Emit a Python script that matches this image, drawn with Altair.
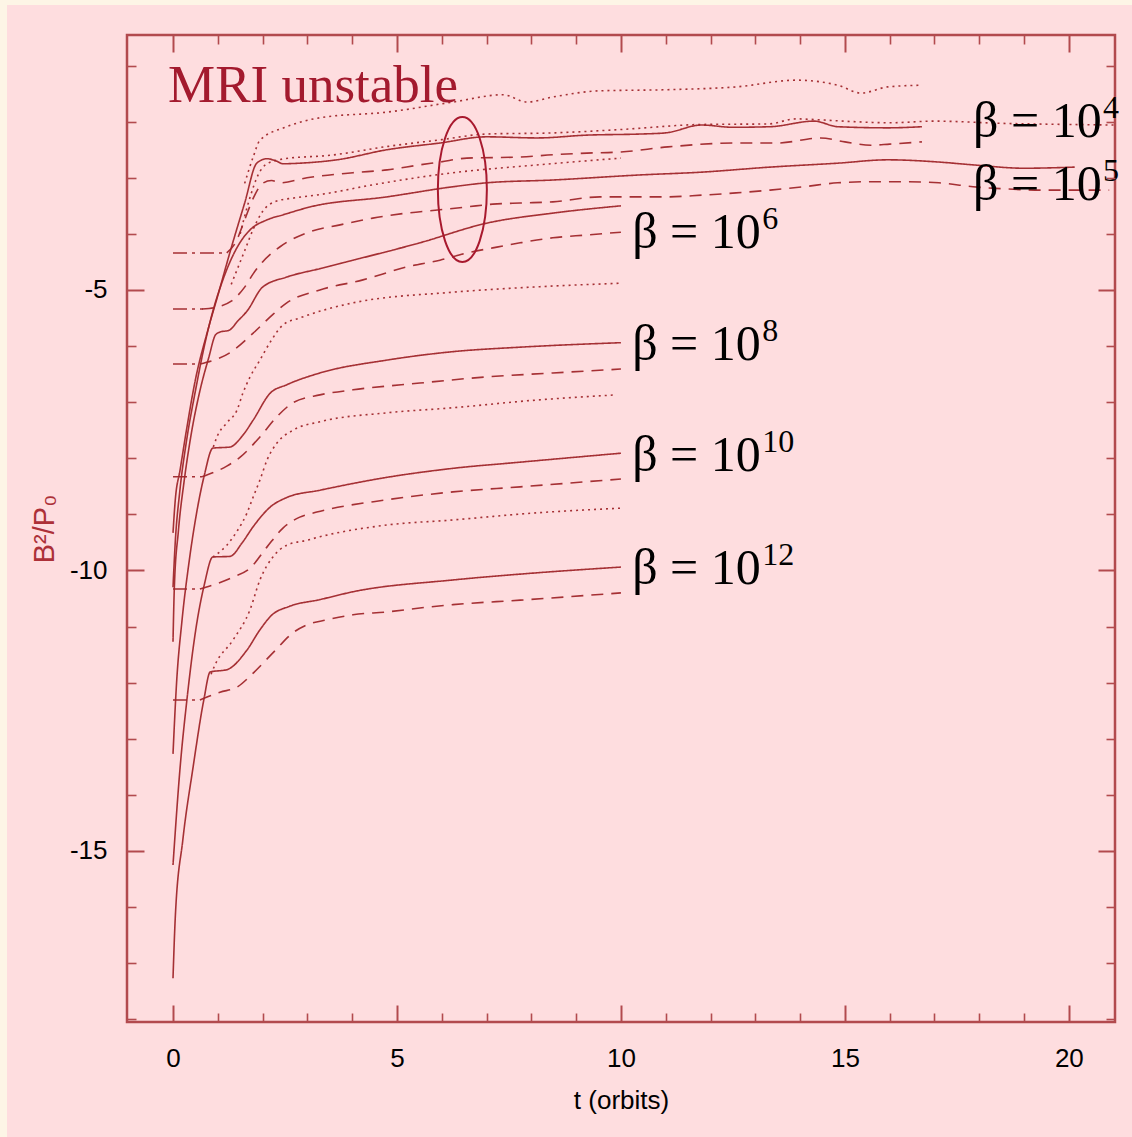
import altair as alt
import pandas as pd

# ---------------- data (t in orbits, v = log B^2/P0) ----------------
b4_solid_t = [0, 0.05, 0.16, 0.3, 0.5, 0.78, 1.0, 1.3, 1.6, 1.87, 2.1, 2.3, 2.46, 2.83, 3.66, 4.78, 5.96, 7.0, 8.13, 9.24, 10.45, 11.0, 11.8, 12.5, 13.33, 14.31, 14.84, 15.96, 16.72]
b4_solid_v = [-9.33, -8.75, -8.2, -7.5, -6.6, -5.71, -5.1, -4.25, -3.45, -2.74, -2.66, -2.7, -2.75, -2.74, -2.68, -2.5, -2.38, -2.27, -2.29, -2.24, -2.22, -2.2, -2.06, -2.1, -2.09, -1.99, -2.09, -2.11, -2.09]
b4_dash_t = [1.2, 1.4, 1.6, 1.8, 2.0, 2.2, 2.39, 2.99, 4.02, 4.78, 5.51, 5.96, 6.56, 7.75, 8.48, 9.24, 10.0, 11.05, 12.57, 13.5, 14.46, 15.0, 15.58, 16.0, 16.72]
b4_dash_v = [-4.34, -4.15, -3.75, -3.35, -3.1, -3.05, -3.09, -3.0, -2.91, -2.86, -2.77, -2.72, -2.65, -2.63, -2.59, -2.56, -2.54, -2.45, -2.38, -2.38, -2.29, -2.36, -2.42, -2.4, -2.36]
b4_dot_t = [1.5, 1.7, 1.9, 2.1, 2.5, 3.5, 4.8, 6.0, 7.0, 8.5, 10.0, 11.8, 13.3, 13.9, 14.5, 15.2, 16.0, 17.0, 18.5, 20.0, 21.0]
b4_dot_v = [-4.0, -3.4, -2.95, -2.75, -2.66, -2.6, -2.44, -2.32, -2.22, -2.2, -2.14, -2.05, -2.04, -1.95, -1.97, -2.0, -2.02, -1.99, -2.03, -2.05, -2.06]
top_dot_t = [1.6, 1.79, 1.94, 2.54, 3.28, 4.78, 6.25, 7.37, 7.9, 8.48, 9.53, 11.05, 12.57, 13.93, 14.84, 15.36, 15.96, 16.72]
top_dot_v = [-3.1, -2.63, -2.33, -2.09, -1.93, -1.83, -1.65, -1.52, -1.65, -1.56, -1.45, -1.43, -1.38, -1.26, -1.35, -1.49, -1.38, -1.35]

b5_solid_t = [0, 0.05, 0.15, 0.3, 0.5, 0.7, 0.9, 1.1, 1.3, 1.5, 1.72, 2.1, 2.46, 3.06, 4.78, 6.25, 7.0, 8.48, 10.42, 11.8, 13.33, 14.84, 15.96, 17.1, 17.86, 19.0, 20.13]
b5_solid_v = [-10.3, -9.5, -8.6, -7.7, -6.8, -6.0, -5.35, -4.85, -4.45, -4.15, -3.93, -3.75, -3.66, -3.52, -3.34, -3.16, -3.09, -3.04, -2.95, -2.9, -2.81, -2.74, -2.68, -2.72, -2.77, -2.83, -2.81]
b5_dash_t = [0.65, 1.0, 1.3, 1.6, 1.8, 2.0, 2.39, 2.99, 3.73, 4.46, 5.22, 5.96, 6.56, 7.14, 7.75, 8.48, 9.53, 11.05, 11.8, 12.57, 13.33, 14.08, 14.84, 15.58, 16.34, 17.1, 17.86, 18.62, 19.37, 20.9]
b5_dash_v = [-5.34, -5.3, -5.2, -4.95, -4.7, -4.5, -4.23, -3.98, -3.84, -3.72, -3.63, -3.57, -3.52, -3.47, -3.45, -3.43, -3.34, -3.34, -3.31, -3.27, -3.22, -3.16, -3.09, -3.07, -3.07, -3.09, -3.16, -3.2, -3.22, -3.22]
b5_dot_t = [1.3, 1.6, 1.8, 2.0, 2.3, 2.7, 3.28, 4.5, 6.25, 8.0, 10.0]
b5_dot_v = [-4.9, -4.3, -3.9, -3.6, -3.42, -3.36, -3.3, -3.12, -2.91, -2.78, -2.65]

b6_solid_t = [0, 0.03, 0.12, 0.25, 0.4, 0.6, 0.8, 0.95, 1.05, 1.25, 1.45, 1.65, 2.0, 2.54, 3.28, 4.02, 5.51, 7.0, 8.48, 10.0]
b6_solid_v = [-11.27, -10.3, -9.3, -8.4, -7.6, -6.8, -6.2, -5.8, -5.75, -5.72, -5.55, -5.38, -4.95, -4.77, -4.62, -4.47, -4.16, -3.81, -3.63, -3.5]
b6_dash_t = [0.6, 1.27, 1.79, 2.17, 2.54, 3.28, 4.24, 5.22, 5.96, 6.56, 7.14, 7.75, 8.48, 9.24, 10.0]
b6_dash_v = [-6.32, -6.12, -5.77, -5.48, -5.23, -5.0, -4.82, -4.59, -4.47, -4.34, -4.25, -4.16, -4.07, -4.02, -3.97]
b6_dot_t = [0.9, 0.98, 1.2, 1.43, 1.56, 1.72, 1.94, 2.17, 2.46, 2.83, 4.02, 6.25, 8.0, 10.0]
b6_dot_v = [-7.8, -7.62, -7.37, -7.14, -6.84, -6.55, -6.25, -5.93, -5.62, -5.5, -5.23, -5.04, -4.95, -4.88]

b8_solid_t = [0, 0.08, 0.2, 0.35, 0.5, 0.7, 0.89, 1.27, 1.55, 1.79, 2.17, 2.54, 3.28, 4.78, 6.25, 7.75, 10.0]
b8_solid_v = [-13.27, -12.0, -10.9, -9.9, -9.1, -8.3, -7.82, -7.8, -7.6, -7.32, -6.84, -6.69, -6.48, -6.25, -6.1, -6.02, -5.94]
b8_dash_t = [0.65, 1.2, 1.5, 1.94, 2.32, 2.68, 3.28, 4.02, 5.51, 7.0, 8.48, 10.0]
b8_dash_v = [-8.33, -8.14, -7.98, -7.62, -7.26, -7.01, -6.87, -6.78, -6.66, -6.55, -6.48, -6.41]
b8_dot_t = [0.89, 1.2, 1.43, 1.65, 1.79, 1.94, 2.1, 2.32, 2.68, 3.28, 4.78, 6.25, 8.0, 9.9]
b8_dot_v = [-9.76, -9.55, -9.3, -8.98, -8.69, -8.39, -8.03, -7.73, -7.5, -7.35, -7.19, -7.1, -6.97, -6.87]

b10_solid_t = [0, 0.16, 0.31, 0.5, 0.7, 0.89, 1.27, 1.55, 1.79, 2.17, 2.54, 3.28, 4.78, 6.25, 7.75, 10.0]
b10_solid_v = [-15.25, -13.5, -12.31, -11.1, -10.25, -9.76, -9.75, -9.5, -9.22, -8.87, -8.7, -8.57, -8.34, -8.18, -8.07, -7.91]
b10_dash_t = [0.6, 0.89, 1.34, 1.72, 2.1, 2.46, 2.83, 3.21, 4.78, 6.25, 7.75, 10.0]
b10_dash_v = [-10.33, -10.26, -10.12, -9.96, -9.58, -9.24, -9.05, -8.96, -8.74, -8.6, -8.51, -8.37]
b10_dot_t = [0.85, 0.94, 1.34, 1.72, 1.94, 2.23, 2.54, 3.0, 3.28, 4.78, 6.25, 8.0, 10.0]
b10_dot_v = [-11.85, -11.68, -11.24, -10.7, -10.17, -9.76, -9.55, -9.46, -9.4, -9.19, -9.1, -8.98, -8.89]

b12_solid_t = [0, 0.05, 0.22, 0.45, 0.69, 0.83, 1.2, 1.65, 1.94, 2.2, 2.6, 3.28, 4.02, 6.25, 8.0, 10.0]
b12_solid_v = [-17.27, -16.2, -14.8, -13.5, -12.3, -11.81, -11.77, -11.42, -11.06, -10.8, -10.64, -10.52, -10.38, -10.17, -10.05, -9.94]
b12_dash_t = [0.6, 1.05, 1.43, 1.79, 2.23, 2.68, 2.99, 3.44, 4.02, 4.78, 5.51, 6.25, 7.75, 10.0]
b12_dash_v = [-12.31, -12.17, -12.08, -11.83, -11.47, -11.11, -10.97, -10.88, -10.79, -10.74, -10.67, -10.61, -10.53, -10.4]

# initial field levels (dash-dot), one per beta
init_levels = [-4.34, -5.34, -6.32, -8.33, -10.33, -12.31]
init_ends = [1.2, 0.67, 0.6, 0.65, 0.6, 0.6]

# labels
beta_exps = ["4", "5", "6", "8", "10", "12"]
beta_lab_t = [17.86, 17.86, 10.25, 10.25, 10.25, 10.25]
beta_lab_v = [-2.27, -3.40, -4.25, -6.25, -8.22, -10.25]

# ---------------- build table ----------------
series = [
    ("b4s", "solid", b4_solid_t, b4_solid_v), ("b4d", "dashed", b4_dash_t, b4_dash_v),
    ("b4o", "dotted", b4_dot_t, b4_dot_v), ("top", "dotted", top_dot_t, top_dot_v),
    ("b5s", "solid", b5_solid_t, b5_solid_v), ("b5d", "dashed", b5_dash_t, b5_dash_v),
    ("b5o", "dotted", b5_dot_t, b5_dot_v),
    ("b6s", "solid", b6_solid_t, b6_solid_v), ("b6d", "dashed", b6_dash_t, b6_dash_v),
    ("b6o", "dotted", b6_dot_t, b6_dot_v),
    ("b8s", "solid", b8_solid_t, b8_solid_v), ("b8d", "dashed", b8_dash_t, b8_dash_v),
    ("b8o", "dotted", b8_dot_t, b8_dot_v),
    ("b10s", "solid", b10_solid_t, b10_solid_v), ("b10d", "dashed", b10_dash_t, b10_dash_v),
    ("b10o", "dotted", b10_dot_t, b10_dot_v),
    ("b12s", "solid", b12_solid_t, b12_solid_v), ("b12d", "dashed", b12_dash_t, b12_dash_v),
]
rows = []
for name, style, ts, vs in series:
    for t, v in zip(ts, vs):
        rows.append({"series": name, "style": style, "t": t, "v": v})
for i, (lv, te) in enumerate(zip(init_levels, init_ends)):
    rows.append({"series": f"init{i}", "style": "dashdot", "t": 0.0, "v": lv})
    rows.append({"series": f"init{i}", "style": "dashdot", "t": te, "v": lv})
df = pd.DataFrame(rows)

W, H = 988, 987
XDOM = [-1.027, 21.03]
YDOM = [-18.05, -0.455]
LINE = "#a0262a"
FRAME = "#b24a4e"
PINK = "#fedddf"
CREAM = "#fdf5e6"

xs = alt.Scale(domain=XDOM, nice=False, zero=False)
ys = alt.Scale(domain=YDOM, nice=False, zero=False)

one = pd.DataFrame({"a": [0]})
cream_left = alt.Chart(one).mark_rect(color=CREAM).encode(
    x=alt.value(-127), x2=alt.value(-120), y=alt.value(-35), y2=alt.value(H + 115))
cream_top = alt.Chart(one).mark_rect(color=CREAM).encode(
    x=alt.value(-127), x2=alt.value(W + 17), y=alt.value(-35), y2=alt.value(-30))

lines = alt.Chart(df).mark_line(strokeWidth=1.6, color=LINE, opacity=0.95,
                                interpolate="monotone").encode(
    x=alt.X("t:Q", scale=xs, axis=alt.Axis(
        values=[0, 5, 10, 15, 20], ticks=False, tickSize=0, domain=False, grid=False,
        labelFont="Liberation Sans", labelFontSize=26, labelColor="black", labelPadding=23,
        title="t (orbits)", titleFont="Liberation Sans", titleFontSize=26,
        titleFontWeight="normal", titleColor="black", titlePadding=16)),
    y=alt.Y("v:Q", scale=ys, axis=alt.Axis(
        values=[-5, -10, -15], ticks=False, tickSize=0, domain=False, grid=False,
        labelExpr="'-' + abs(datum.value)",
        labelFont="Liberation Sans", labelFontSize=26, labelColor="black", labelPadding=20,
        title="B²/P₀", titleFont="Liberation Sans", titleFontSize=29,
        titleFontWeight="normal", titleColor="#ac3038", titlePadding=10)),
    detail="series:N",
    strokeDash=alt.StrokeDash("style:N", scale=alt.Scale(
        domain=["solid", "dashed", "dotted", "dashdot"],
        range=[[1, 0], [12, 8], [2, 4], [14, 5, 3, 5]]), legend=None),
)

# ellipse annotation
ell_df = pd.DataFrame({"t": [6.46], "v": [-3.21]})
ELL = ("M0,-1 C0.187,-1 0.338,-0.5523 0.338,0 C0.338,0.5523 0.187,1 0,1 "
       "C-0.187,1 -0.338,0.5523 -0.338,0 C-0.338,-0.5523 -0.187,-1 0,-1 Z")
ellipse = alt.Chart(ell_df).mark_point(shape=ELL, size=145 * 145, filled=False,
                                       strokeWidth=2, color="#a8192e", opacity=1).encode(
    x=alt.X("t:Q", scale=xs, axis=None), y=alt.Y("v:Q", scale=ys, axis=None))

# MRI label
mri = alt.Chart(pd.DataFrame({"t": [-0.11], "v": [-1.643], "s": ["MRI unstable"]})).mark_text(
    align="left", baseline="alphabetic", font="Liberation Serif", fontSize=53, color="#a31a2e"
).encode(x=alt.X("t:Q", scale=xs, axis=None), y=alt.Y("v:Q", scale=ys, axis=None), text="s:N")

lab_df = pd.DataFrame({"t": beta_lab_t, "v": beta_lab_v,
                       "base": ["β = 10"] * 6, "exp": beta_exps})
beta_base = alt.Chart(lab_df).mark_text(
    align="left", baseline="alphabetic", font="Liberation Serif", fontSize=50, color="black"
).encode(x=alt.X("t:Q", scale=xs, axis=None), y=alt.Y("v:Q", scale=ys, axis=None), text="base:N")
beta_exp = alt.Chart(lab_df).mark_text(
    align="left", baseline="alphabetic", font="Liberation Serif", fontSize=32, color="black",
    dx=130, dy=-19
).encode(x=alt.X("t:Q", scale=xs, axis=None), y=alt.Y("v:Q", scale=ys, axis=None), text="exp:N")

# inward ticks on all four sides
xmaj = [0, 5, 10, 15, 20]
xmin = [i for i in range(0, 21) if i % 5 != 0]
ymaj = [-5, -10, -15]
ymin = [-i for i in range(1, 19) if i % 5 != 0]
pt_df = pd.DataFrame({"t": [0.0], "v": [-5.0]})


def tick_layer(xorient, yorient, xvals, yvals, size, width):
    xa = alt.Axis(orient=xorient, offset=-H, values=xvals, labels=False, title=None,
                  domain=False, grid=False, tickSize=size, tickWidth=width, tickColor=FRAME,
                  zindex=2)
    ya = alt.Axis(orient=yorient, offset=-W, values=yvals, labels=False, title=None,
                  domain=False, grid=False, tickSize=size, tickWidth=width, tickColor=FRAME,
                  zindex=2)
    return alt.Chart(pt_df).mark_point(opacity=0).encode(
        x=alt.X("t:Q", scale=xs, axis=xa), y=alt.Y("v:Q", scale=ys, axis=ya))


ticks = [
    tick_layer("top", "right", xmaj, ymaj, 17, 2),      # bottom & left, major
    tick_layer("top", "right", xmin, ymin, 9, 1.6),     # bottom & left, minor
    tick_layer("bottom", "left", xmaj, ymaj, 17, 2),    # top & right, major
    tick_layer("bottom", "left", xmin, ymin, 9, 1.6),   # top & right, minor
]

chart = alt.layer(cream_left, cream_top, lines, ellipse, mri, beta_base, beta_exp,
                  *ticks).resolve_axis(
    x="independent", y="independent"
).properties(
    width=W, height=H,
    autosize=alt.AutoSizeParams(type="none"),
    padding={"left": 127, "top": 35, "right": 17, "bottom": 115},
    background=PINK,
).configure_view(stroke=FRAME, strokeWidth=2.5, fill=PINK)

chart.save("out.html", embed_options={"renderer": "svg", "actions": False})
